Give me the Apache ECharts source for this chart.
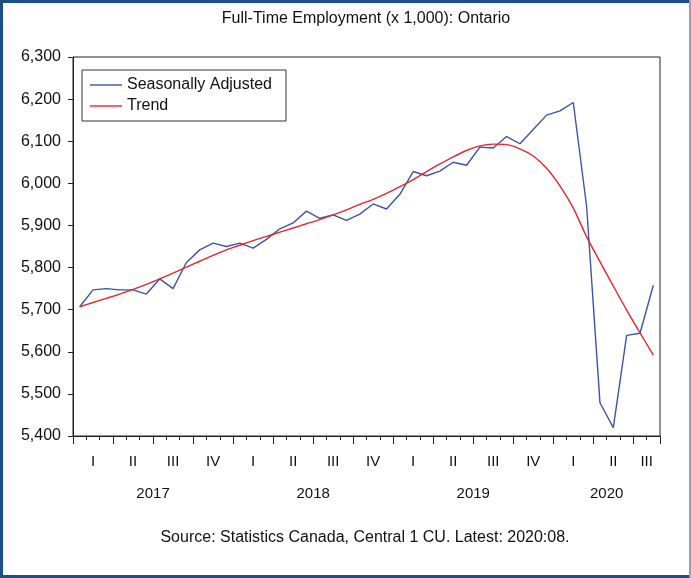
<!DOCTYPE html>
<html>
<head>
<meta charset="utf-8">
<script src="https://cdn.jsdelivr.net/npm/echarts@6/dist/echarts.min.js"></script>
<style>
  html, body { margin: 0; padding: 0; background: #fff; }
  #chart { width: 691px; height: 578px; }
</style>
</head>
<body>
<div id="chart"></div>
<script>
const years = ["2017", "2018", "2019", "2020"];
const quarters = ["I", "II", "III", "IV"];
const months = [];
years.forEach(function (y) {
  for (let m = 1; m <= 12; m++) {
    if (y === "2020" && m > 8) break;
    months.push(y + ":" + (m < 10 ? "0" + m : m));
  }
});

// thousands of persons, Jan 2017 - Aug 2020
const seasonallyAdjusted = [
  5707, 5747, 5750, 5747, 5747, 5737, 5773, 5750, 5812, 5842, 5858, 5850,
  5858, 5846, 5867, 5892, 5906, 5934, 5917, 5925, 5912, 5927, 5951, 5939,
  5974, 6028, 6018, 6029, 6050, 6043, 6086, 6084, 6111, 6094, 6128, 6162,
  6172, 6192, 5945, 5479, 5420, 5639, 5644, 5758
];
const trend = [
  5707, 5717, 5727, 5737, 5748, 5760, 5773, 5787, 5801, 5815, 5829, 5842,
  5853, 5864, 5874, 5884, 5894, 5904, 5914, 5925, 5937, 5950, 5962, 5976,
  5992, 6009, 6028, 6046, 6063, 6078, 6089, 6093, 6092, 6082, 6065, 6036,
  5994, 5941, 5873, 5814, 5756, 5699, 5645, 5592
];

const font = "Liberation Sans, Arial, sans-serif";
const frame = "#1c4e8a";

// label positions on a 0..44 month scale
function quarterLabel(v) {
  const last = months.length;
  if (v === 43) return "III";
  if (v < last - 2 && (v - 1.5) % 3 === 0) return quarters[((v - 1.5) / 3) % 4];
  return "";
}
function yearLabel(v) {
  const pos = { 6: years[0], 18: years[1], 30: years[2], 40: years[3] };
  return pos[v] || "";
}

const chart = echarts.init(document.getElementById("chart"));
chart.setOption({
  animation: false,
  graphic: [
    { type: "rect", shape: { x: 0, y: 0, width: 691, height: 3 }, style: { fill: frame } },
    { type: "rect", shape: { x: 0, y: 575, width: 691, height: 3 }, style: { fill: frame } },
    { type: "rect", shape: { x: 0, y: 0, width: 3, height: 578 }, style: { fill: frame } },
    { type: "rect", shape: { x: 689, y: 0, width: 2, height: 578 }, style: { fill: "#86a5c6" } },
    {
      type: "text",
      x: 366,
      y: 19,
      style: {
        text: "Full-Time Employment (x 1,000): Ontario",
        font: "16px " + font,
        fill: "#111",
        textAlign: "center",
        textVerticalAlign: "middle"
      }
    },
    {
      type: "text",
      x: 365,
      y: 538,
      style: {
        text: "Source: Statistics Canada, Central 1 CU. Latest: 2020:08.",
        font: "16px " + font,
        fill: "#111",
        textAlign: "center",
        textVerticalAlign: "middle"
      }
    }
  ],
  grid: {
    left: 73,
    top: 57,
    right: 31,
    bottom: 142,
    show: true,
    borderColor: "#222",
    borderWidth: 1
  },
  legend: {
    orient: "vertical",
    left: 82,
    top: 70,
    padding: [7, 14, 7, 8],
    itemGap: 5,
    itemWidth: 32,
    itemHeight: 18,
    icon: "path://M0,8.3 L32,8.3 L32,9.7 L0,9.7 Z",
    borderColor: "#333",
    borderWidth: 1,
    textStyle: { fontFamily: font, fontSize: 16, color: "#111" },
    data: ["Seasonally Adjusted", "Trend"]
  },
  xAxis: [
    {
      type: "category",
      position: "bottom",
      data: months,
      boundaryGap: true,
      axisLine: { show: true, lineStyle: { color: "#222" } },
      axisTick: { show: true, length: 4, interval: 0, lineStyle: { color: "#222" } },
      axisLabel: { show: false }
    },
    {
      type: "category",
      position: "bottom",
      data: months,
      boundaryGap: true,
      axisLine: { show: false },
      axisTick: {
        show: true,
        length: 8,
        interval: function (i) { return i % 3 === 0; },
        lineStyle: { color: "#222" }
      },
      axisLabel: { show: false }
    },
    {
      type: "value",
      position: "bottom",
      min: 0,
      max: months.length,
      interval: 0.5,
      axisLine: { show: false },
      axisTick: { show: false },
      splitLine: { show: false },
      axisLabel: {
        margin: 18,
        fontFamily: font,
        fontSize: 15,
        color: "#111",
        formatter: quarterLabel
      }
    },
    {
      type: "value",
      position: "bottom",
      min: 0,
      max: months.length,
      interval: 0.5,
      axisLine: { show: false },
      axisTick: { show: false },
      splitLine: { show: false },
      axisLabel: {
        margin: 50,
        fontFamily: font,
        fontSize: 15,
        color: "#111",
        formatter: yearLabel
      }
    }
  ],
  yAxis: {
    type: "value",
    min: 5400,
    max: 6300,
    interval: 100,
    splitLine: { show: false },
    axisLine: { show: true, lineStyle: { color: "#222" } },
    axisTick: { show: true, length: 5, lineStyle: { color: "#222" } },
    axisLabel: {
      margin: 12,
      fontFamily: font,
      fontSize: 16,
      color: "#111",
      formatter: function (v) {
        return String(v).replace(/\B(?=(\d{3})+(?!\d))/g, ",");
      }
    }
  },
  series: [
    {
      name: "Seasonally Adjusted",
      type: "line",
      data: seasonallyAdjusted,
      symbol: "none",
      lineStyle: { color: "#3c55a5", width: 1.4 },
      itemStyle: { color: "#3c55a5" }
    },
    {
      name: "Trend",
      type: "line",
      data: trend,
      symbol: "none",
      smooth: 0.3,
      lineStyle: { color: "#e8252a", width: 1.4 },
      itemStyle: { color: "#e8252a" }
    }
  ]
});
</script>
</body>
</html>
